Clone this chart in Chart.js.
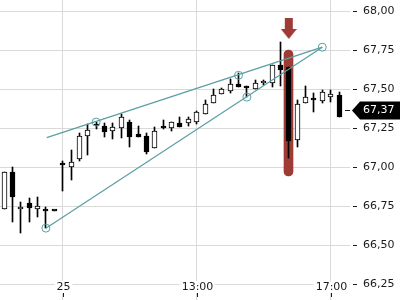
<!DOCTYPE html>
<html>
<head>
<meta charset="utf-8">
<script src="https://cdn.jsdelivr.net/npm/chart.js@4/dist/chart.umd.min.js"></script>
<style>
  html, body { margin: 0; padding: 0; background: #fff; }
  #wrap { width: 400px; height: 300px; }
</style>
</head>
<body>
<div id="wrap"><canvas id="chart"></canvas></div>
<script>
// 15 min candles
const opens  = [66.73, 66.968, 66.731, 66.769, 66.735, 66.731, 66.718, 67.021, 67.0, 67.053, 67.201, 67.271, 67.265, 67.233, 67.25, 67.29, 67.213, 67.201, 67.122, 67.265, 67.25, 67.282, 67.282, 67.288, 67.34, 67.41, 67.468, 67.491, 67.534, 67.519, 67.504, 67.538, 67.538, 67.656, 67.645, 67.175, 67.41, 67.444, 67.427, 67.449, 67.462];
const highs  = [66.968, 67.004, 66.779, 66.801, 66.808, 66.747, 66.718, 67.04, 67.111, 67.218, 67.276, 67.292, 67.286, 67.282, 67.342, 67.303, 67.265, 67.218, 67.256, 67.303, 67.29, 67.324, 67.321, 67.361, 67.431, 67.5, 67.51, 67.564, 67.603, 67.519, 67.56, 67.56, 67.655, 67.805, 67.645, 67.431, 67.521, 67.478, 67.496, 67.496, 67.481];
const lows   = [66.73, 66.651, 66.577, 66.651, 66.683, 66.609, 66.718, 66.851, 66.919, 67.04, 67.079, 67.244, 67.196, 67.179, 67.186, 67.13, 67.197, 67.083, 67.122, 67.244, 67.235, 67.256, 67.267, 67.276, 67.34, 67.41, 67.468, 67.474, 67.513, 67.453, 67.504, 67.528, 67.517, 67.521, 67.058, 67.128, 67.41, 67.356, 67.41, 67.421, 67.321];
const closes = [66.968, 66.808, 66.747, 66.737, 66.75, 66.718, 66.718, 67.012, 67.032, 67.201, 67.239, 67.262, 67.228, 67.26, 67.321, 67.192, 67.197, 67.096, 67.233, 67.25, 67.288, 67.26, 67.31, 67.353, 67.404, 67.463, 67.5, 67.534, 67.513, 67.51, 67.538, 67.549, 67.653, 67.624, 67.171, 67.404, 67.449, 67.431, 67.481, 67.468, 67.321];

const yTicks = [66.25, 66.5, 66.75, 67, 67.25, 67.5, 67.75, 68];
const xTickIndex = [7, 23, 39];
const xTickLabels = ['25', '13:00', '17:00'];

// wedge drawing
const wedgeUpper = [{x: 5.1, y: 67.19}, {x: 38, y: 67.77}];
const wedgeLower = [{x: 5, y: 66.61}, {x: 38, y: 67.77}];
const wedgePoints = [{x: 5, y: 66.61}, {x: 11, y: 67.29}, {x: 28, y: 67.59}, {x: 29, y: 67.45}, {x: 38, y: 67.77}];

// highlighted candle + arrow, last price marker
const markIndex = 34;
const markRange = [66.945, 67.75];
const arrowLevel = 67.89;
const lastPrice = 67.37;

const TEAL = '#5a9ea3';
const RED = '#9f3b35';
const INK = '#1a1a1a';
const FONT = 'DejaVu Sans';

const idx = opens.map((_, i) => i);
const bodies = idx.map(i => ({x: i, y: [opens[i], closes[i]]}));
const wicks = idx.map(i => ({x: i, y: [lows[i], highs[i]]}));
const bodyFill = idx.map(i => closes[i] > opens[i] ? '#ffffff' : '#000000');

function arrowImage() {
  const c = document.createElement('canvas');
  c.width = 16; c.height = 21;
  const g = c.getContext('2d');
  g.fillStyle = RED;
  g.beginPath();
  g.moveTo(4, 0); g.lineTo(12, 0); g.lineTo(12, 11);
  g.lineTo(16, 11); g.lineTo(8, 21); g.lineTo(0, 11);
  g.lineTo(4, 11);
  g.closePath();
  g.fill();
  return c;
}

// snap bar elements to whole pixels so candles stay crisp
const snapBars = {
  id: 'snapBars',
  beforeDatasetsDraw(chart) {
    chart.getSortedVisibleDatasetMetas().forEach(meta => {
      if (meta.type !== 'bar') return;
      meta.data.forEach(el => {
        const odd = Math.round(el.width) % 2 === 1;
        el.x = Math.round(el.x - (odd ? 0.5 : 0)) + (odd ? 0.5 : 0);
        el.y = Math.round(el.y);
        el.base = Math.round(el.base);
      });
    });
  }
};

const overlay = {
  id: 'overlay',
  afterDraw(chart) {
    const {ctx, chartArea, scales: {x, y}} = chart;
    ctx.save();
    ctx.font = '11px "' + FONT + '"';
    ctx.textBaseline = 'middle';
    ctx.textAlign = 'center';
    ctx.lineWidth = 1;
    ctx.strokeStyle = INK;

    // time labels sit inside the plot on a white patch
    xTickIndex.forEach((v, i) => {
      const px = Math.round(x.getPixelForValue(v)) + 0.5;
      const w = ctx.measureText(xTickLabels[i]).width;
      ctx.fillStyle = '#fff';
      ctx.fillRect(px - w / 2 - 2, chartArea.bottom - 19, w + 4, 12);
      ctx.fillStyle = INK;
      ctx.fillText(xTickLabels[i], px, chartArea.bottom - 13);
      ctx.beginPath();
      ctx.moveTo(px, chartArea.bottom - 7);
      ctx.lineTo(px, chartArea.bottom - 3);
      ctx.stroke();
    });

    // last price tag
    const py = Math.round(y.getPixelForValue(lastPrice)) + 0.5;
    const r = chartArea.right;
    ctx.beginPath();
    ctx.moveTo(r - 5, py);
    ctx.lineTo(r, py);
    ctx.stroke();
    ctx.fillStyle = '#000';
    ctx.beginPath();
    ctx.moveTo(r + 2, py);
    ctx.lineTo(r + 10, py - 9);
    ctx.lineTo(chart.width, py - 9);
    ctx.lineTo(chart.width, py + 9);
    ctx.lineTo(r + 10, py + 9);
    ctx.closePath();
    ctx.fill();
    ctx.fillStyle = '#fff';
    ctx.textAlign = 'left';
    ctx.fillText(lastPrice.toFixed(2).replace('.', ','), r + 13, py);
    ctx.restore();
  }
};

new Chart(document.getElementById('chart'), {
  type: 'bar',
  data: {
    datasets: [
      {
        type: 'line', order: 0,
        data: [{x: markIndex, y: arrowLevel}],
        showLine: false, pointStyle: arrowImage(), pointRadius: 5
      },
      {
        type: 'line', order: 1,
        data: wedgePoints,
        showLine: false, pointRadius: 4, pointBorderWidth: 1,
        pointBorderColor: TEAL, pointBackgroundColor: 'rgba(0,0,0,0)'
      },
      {
        type: 'line', order: 2,
        data: wedgeUpper,
        borderColor: TEAL, borderWidth: 1.2, pointRadius: 0, fill: false
      },
      {
        type: 'line', order: 3,
        data: wedgeLower,
        borderColor: TEAL, borderWidth: 1.2, pointRadius: 0, fill: false
      },
      {
        order: 4, grouped: false,
        data: bodies,
        backgroundColor: bodyFill, borderColor: '#000', borderWidth: 1,
        borderSkipped: false, barThickness: 5, minBarLength: 2
      },
      {
        order: 5, grouped: false,
        data: wicks,
        backgroundColor: '#000', barThickness: 1
      },
      {
        order: 6, grouped: false,
        data: [{x: markIndex, y: markRange}],
        backgroundColor: RED, barThickness: 9,
        borderRadius: 5, borderSkipped: false
      }
    ]
  },
  options: {
    responsive: true,
    maintainAspectRatio: false,
    animation: false,
    layout: { padding: 0, autoPadding: false },
    plugins: { legend: { display: false }, tooltip: { enabled: false } },
    scales: {
      x: {
        type: 'linear',
        offset: false,
        min: -0.478, max: 41.31,
        afterBuildTicks: s => { s.ticks = xTickIndex.map(v => ({value: v})); },
        ticks: { display: false },
        grid: { color: '#d9d9d9', drawTicks: false, offset: false },
        border: { display: false }
      },
      y: {
        position: 'right',
        min: 66.1494, max: 68.0724,
        afterBuildTicks: s => { s.ticks = yTicks.map(v => ({value: v})); },
        afterFit: s => { s.width = 50; s.paddingTop = 0; s.paddingBottom = 0; },
        grid: { color: '#d9d9d9', tickColor: INK, tickLength: 7, tickBorderDash: [0, 3, 4, 20] },
        border: { display: false },
        ticks: {
          padding: 6, color: INK,
          font: { family: FONT, size: 11 },
          callback: v => v.toFixed(2).replace('.', ',')
        }
      }
    }
  },
  plugins: [snapBars, overlay]
});
</script>
</body>
</html>
